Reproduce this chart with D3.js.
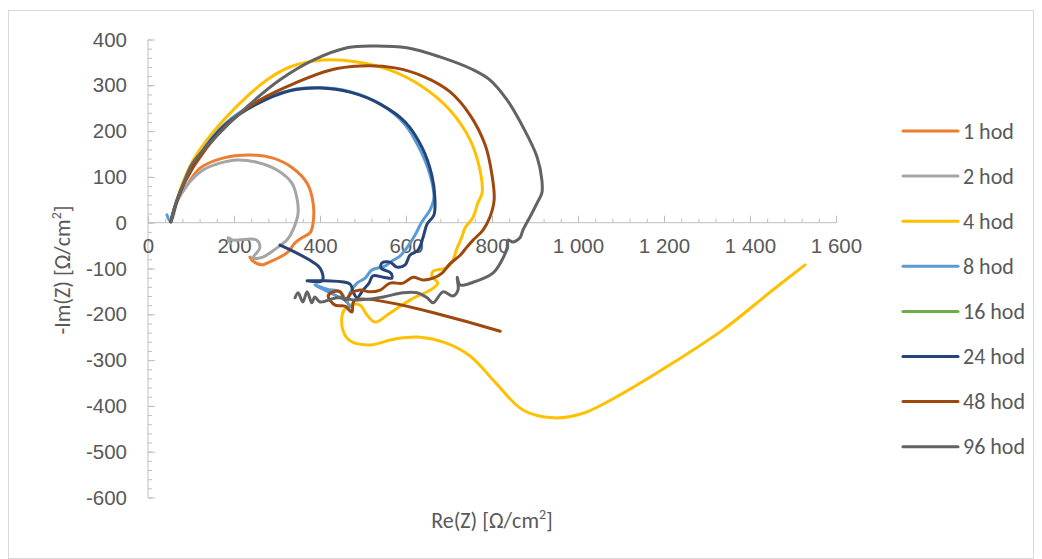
<!DOCTYPE html>
<html lang="en">
<head>
<meta charset="UTF-8">
<title>Nyquist</title>
<script src="https://d3js.org/d3.v7.min.js"></script>
<style>
  body { margin: 0; background: #fff; }
  svg { display: block; font-family: Calibri, Carlito, Lato, sans-serif; }
  .tick text { fill: #595959; font-size: 20.5px; }
  .tick line { stroke: #bfbfbf; stroke-width: 1; }
  .domain { display: none; }
  .title { fill: #595959; font-size: 22px; }
  .legend text { fill: #595959; font-size: 22px; }
</style>
</head>
<body>
<svg id="chart" width="1042" height="559"></svg>
<script>
// series names and colours
const seriesNames = ["1 hod", "2 hod", "4 hod", "8 hod", "16 hod", "24 hod", "48 hod", "96 hod"];
const seriesColors = ["#ED7D31", "#A5A5A5", "#FFC000", "#5B9BD5", "#70AD47", "#264478", "#9E480E", "#636363"];

// [Re(Z), -Im(Z)] pairs
const hod1 = [[53,2],[67,46],[86,75],[121,119],[174,141],[237,148],[291,141],[337,119],[370,86],[384,43],[384,0],[377,-22],[358,-33],[342,-44],[323,-66],[277,-88],[265,-92],[244,-84],[237,-75]];
const hod2 = [[53,2],[67,46],[90,81],[128,115],[167,130],[207,137],[253,132],[300,115],[335,86],[347,50],[349,20],[337,-16],[323,-38],[300,-55],[267,-75],[244,-77],[260,-55],[253,-38],[230,-36],[198,-38],[186,-33],[191,-44]];
const hod4 = [[53,2],[64,40],[80,85],[104,135],[137,181],[214,261],[277,312],[330,340],[407,355],[486,351],[563,333],[640,296],[702,246],[749,181],[772,115],[777,65],[767,43],[756,12],[737,-12],[730,-31],[719,-55],[707,-86],[693,-99],[663,-106],[660,-116],[674,-132],[660,-145],[609,-169],[563,-197],[528,-217],[509,-201],[493,-180],[470,-180],[453,-197],[453,-234],[470,-258],[516,-267],[574,-254],[633,-250],[691,-262],[749,-291],[807,-348],[872,-409],[942,-426],[1012,-416],[1105,-372],[1221,-306],[1337,-234],[1453,-147],[1528,-92]];
const hod8 = [[44,17],[53,2],[67,46],[85,89],[121,150],[179,216],[249,260],[330,289],[400,295],[470,286],[540,259],[598,214],[633,159],[656,104],[665,56],[656,28],[637,2],[621,-27],[602,-55],[586,-73],[567,-84],[551,-95],[521,-103],[505,-121],[486,-132],[470,-153],[463,-173],[447,-151],[416,-145],[388,-136],[423,-153],[458,-169],[470,-184]];
const hod16 = [];
const hod24 = [[53,2],[67,46],[85,88],[121,148],[179,213],[249,257],[330,288],[400,294],[470,285],[540,259],[598,220],[637,165],[660,104],[667,56],[665,17],[649,-3],[640,-31],[628,-60],[609,-71],[598,-92],[579,-97],[563,-86],[544,-88],[542,-99],[565,-110],[567,-121],[547,-119],[523,-116],[514,-132],[500,-147],[486,-164],[477,-151],[470,-134],[412,-127],[370,-127],[405,-127],[400,-99],[307,-49]];
const hod48 = [[53,2],[67,48],[86,90],[133,159],[191,220],[260,268],[342,305],[423,333],[493,342],[574,338],[644,318],[702,286],[749,235],[784,170],[800,104],[805,50],[795,12],[779,-16],[756,-38],[740,-55],[726,-71],[702,-90],[684,-110],[663,-121],[640,-125],[616,-119],[593,-132],[563,-132],[540,-147],[516,-151],[493,-147],[474,-153],[458,-169],[447,-151],[430,-151],[419,-160],[435,-180],[458,-182],[474,-195],[481,-169],[819,-237]];
const hod96 = [[53,2],[64,40],[80,80],[104,130],[151,181],[230,253],[307,312],[384,355],[463,382],[523,386],[602,382],[679,362],[756,334],[795,312],[835,268],[872,209],[905,143],[916,93],[916,65],[905,43],[888,12],[872,-16],[865,-33],[849,-42],[837,-38],[835,-55],[823,-82],[802,-110],[756,-130],[726,-136],[719,-119],[721,-147],[709,-160],[686,-151],[663,-175],[649,-164],[626,-153],[593,-153],[547,-162],[486,-169],[440,-164],[400,-173],[388,-162],[381,-175],[370,-151],[360,-173],[349,-153],[342,-164]];

const seriesData = [hod1, hod2, hod4, hod8, hod16, hod24, hod48, hod96];

const xMajor = d3.range(0, 1601, 200);
const xMinor = d3.range(0, 1601, 40);
const yMajor = d3.range(-600, 401, 100);
const yMinor = d3.range(-600, 401, 20);

const svg = d3.select("#chart");

// chart border
svg.append("rect")
    .attr("x", 8.5).attr("y", 10.5)
    .attr("width", 1025).attr("height", 548)
    .attr("fill", "#fff")
    .attr("stroke", "#d9d9d9");

const x = d3.scaleLinear().domain([0, 1600]).range([148, 836]);
const y = d3.scaleLinear().domain([-600, 400]).range([497.5, 39.5]);

const fmt = v => d3.format(",")(v).replace(/,/g, " ");

// y axis
svg.append("g").attr("transform", "translate(148,0)")
    .call(d3.axisLeft(y).tickValues(yMinor).tickSize(-4).tickFormat(""));
svg.append("g").attr("transform", "translate(148,0)")
    .call(d3.axisLeft(y).tickValues(yMajor).tickSize(-7).tickPadding(21).tickFormat(d => String(d)));
svg.append("line")
    .attr("x1", 148).attr("x2", 148)
    .attr("y1", y(400)).attr("y2", y(-600))
    .attr("stroke", "#bfbfbf");

// x axis through zero
svg.append("g").attr("transform", `translate(0,${y(0)})`)
    .call(d3.axisBottom(x).tickValues(xMinor).tickSize(-4).tickFormat(""));
svg.append("g").attr("transform", `translate(0,${y(0)})`)
    .call(d3.axisBottom(x).tickValues(xMajor).tickSize(-7).tickPadding(16).tickFormat(fmt));
svg.append("line")
    .attr("x1", x(0)).attr("x2", x(1600))
    .attr("y1", y(0)).attr("y2", y(0))
    .attr("stroke", "#bfbfbf");

// series
const line = d3.line()
    .x(d => x(d[0]))
    .y(d => y(d[1]))
    .curve(d3.curveCatmullRom.alpha(0.5));

svg.append("g").selectAll("path")
    .data(seriesData)
    .join("path")
    .attr("d", d => d.length ? line(d) : null)
    .attr("fill", "none")
    .attr("stroke", (d, i) => seriesColors[i])
    .attr("stroke-width", 3)
    .attr("stroke-linejoin", "round")
    .attr("stroke-linecap", "round");

// axis titles
const xt = svg.append("text").attr("class", "title")
    .attr("x", 492).attr("y", 528).attr("text-anchor", "middle");
xt.append("tspan").text("Re(Z) [Ω/cm");
xt.append("tspan").attr("dy", -9).attr("font-size", 14).text("2");
xt.append("tspan").attr("dy", 9).text("]");

const yt = svg.append("text").attr("class", "title")
    .attr("transform", "translate(70,270) rotate(-90)")
    .attr("text-anchor", "middle");
yt.append("tspan").text("-Im(Z) [Ω/cm");
yt.append("tspan").attr("dy", -9).attr("font-size", 14).text("2");
yt.append("tspan").attr("dy", 9).text("]");

// legend
const legend = svg.append("g").attr("class", "legend");
const items = legend.selectAll("g")
    .data(seriesNames)
    .join("g")
    .attr("transform", (d, i) => `translate(903,${131 + i * 45.1})`);
items.append("line")
    .attr("x1", 0).attr("x2", 55)
    .attr("stroke", (d, i) => seriesColors[i])
    .attr("stroke-width", 3)
    .attr("stroke-linecap", "round");
items.append("text")
    .attr("x", 60).attr("dy", "0.35em")
    .text(d => d);
</script>
</body>
</html>
